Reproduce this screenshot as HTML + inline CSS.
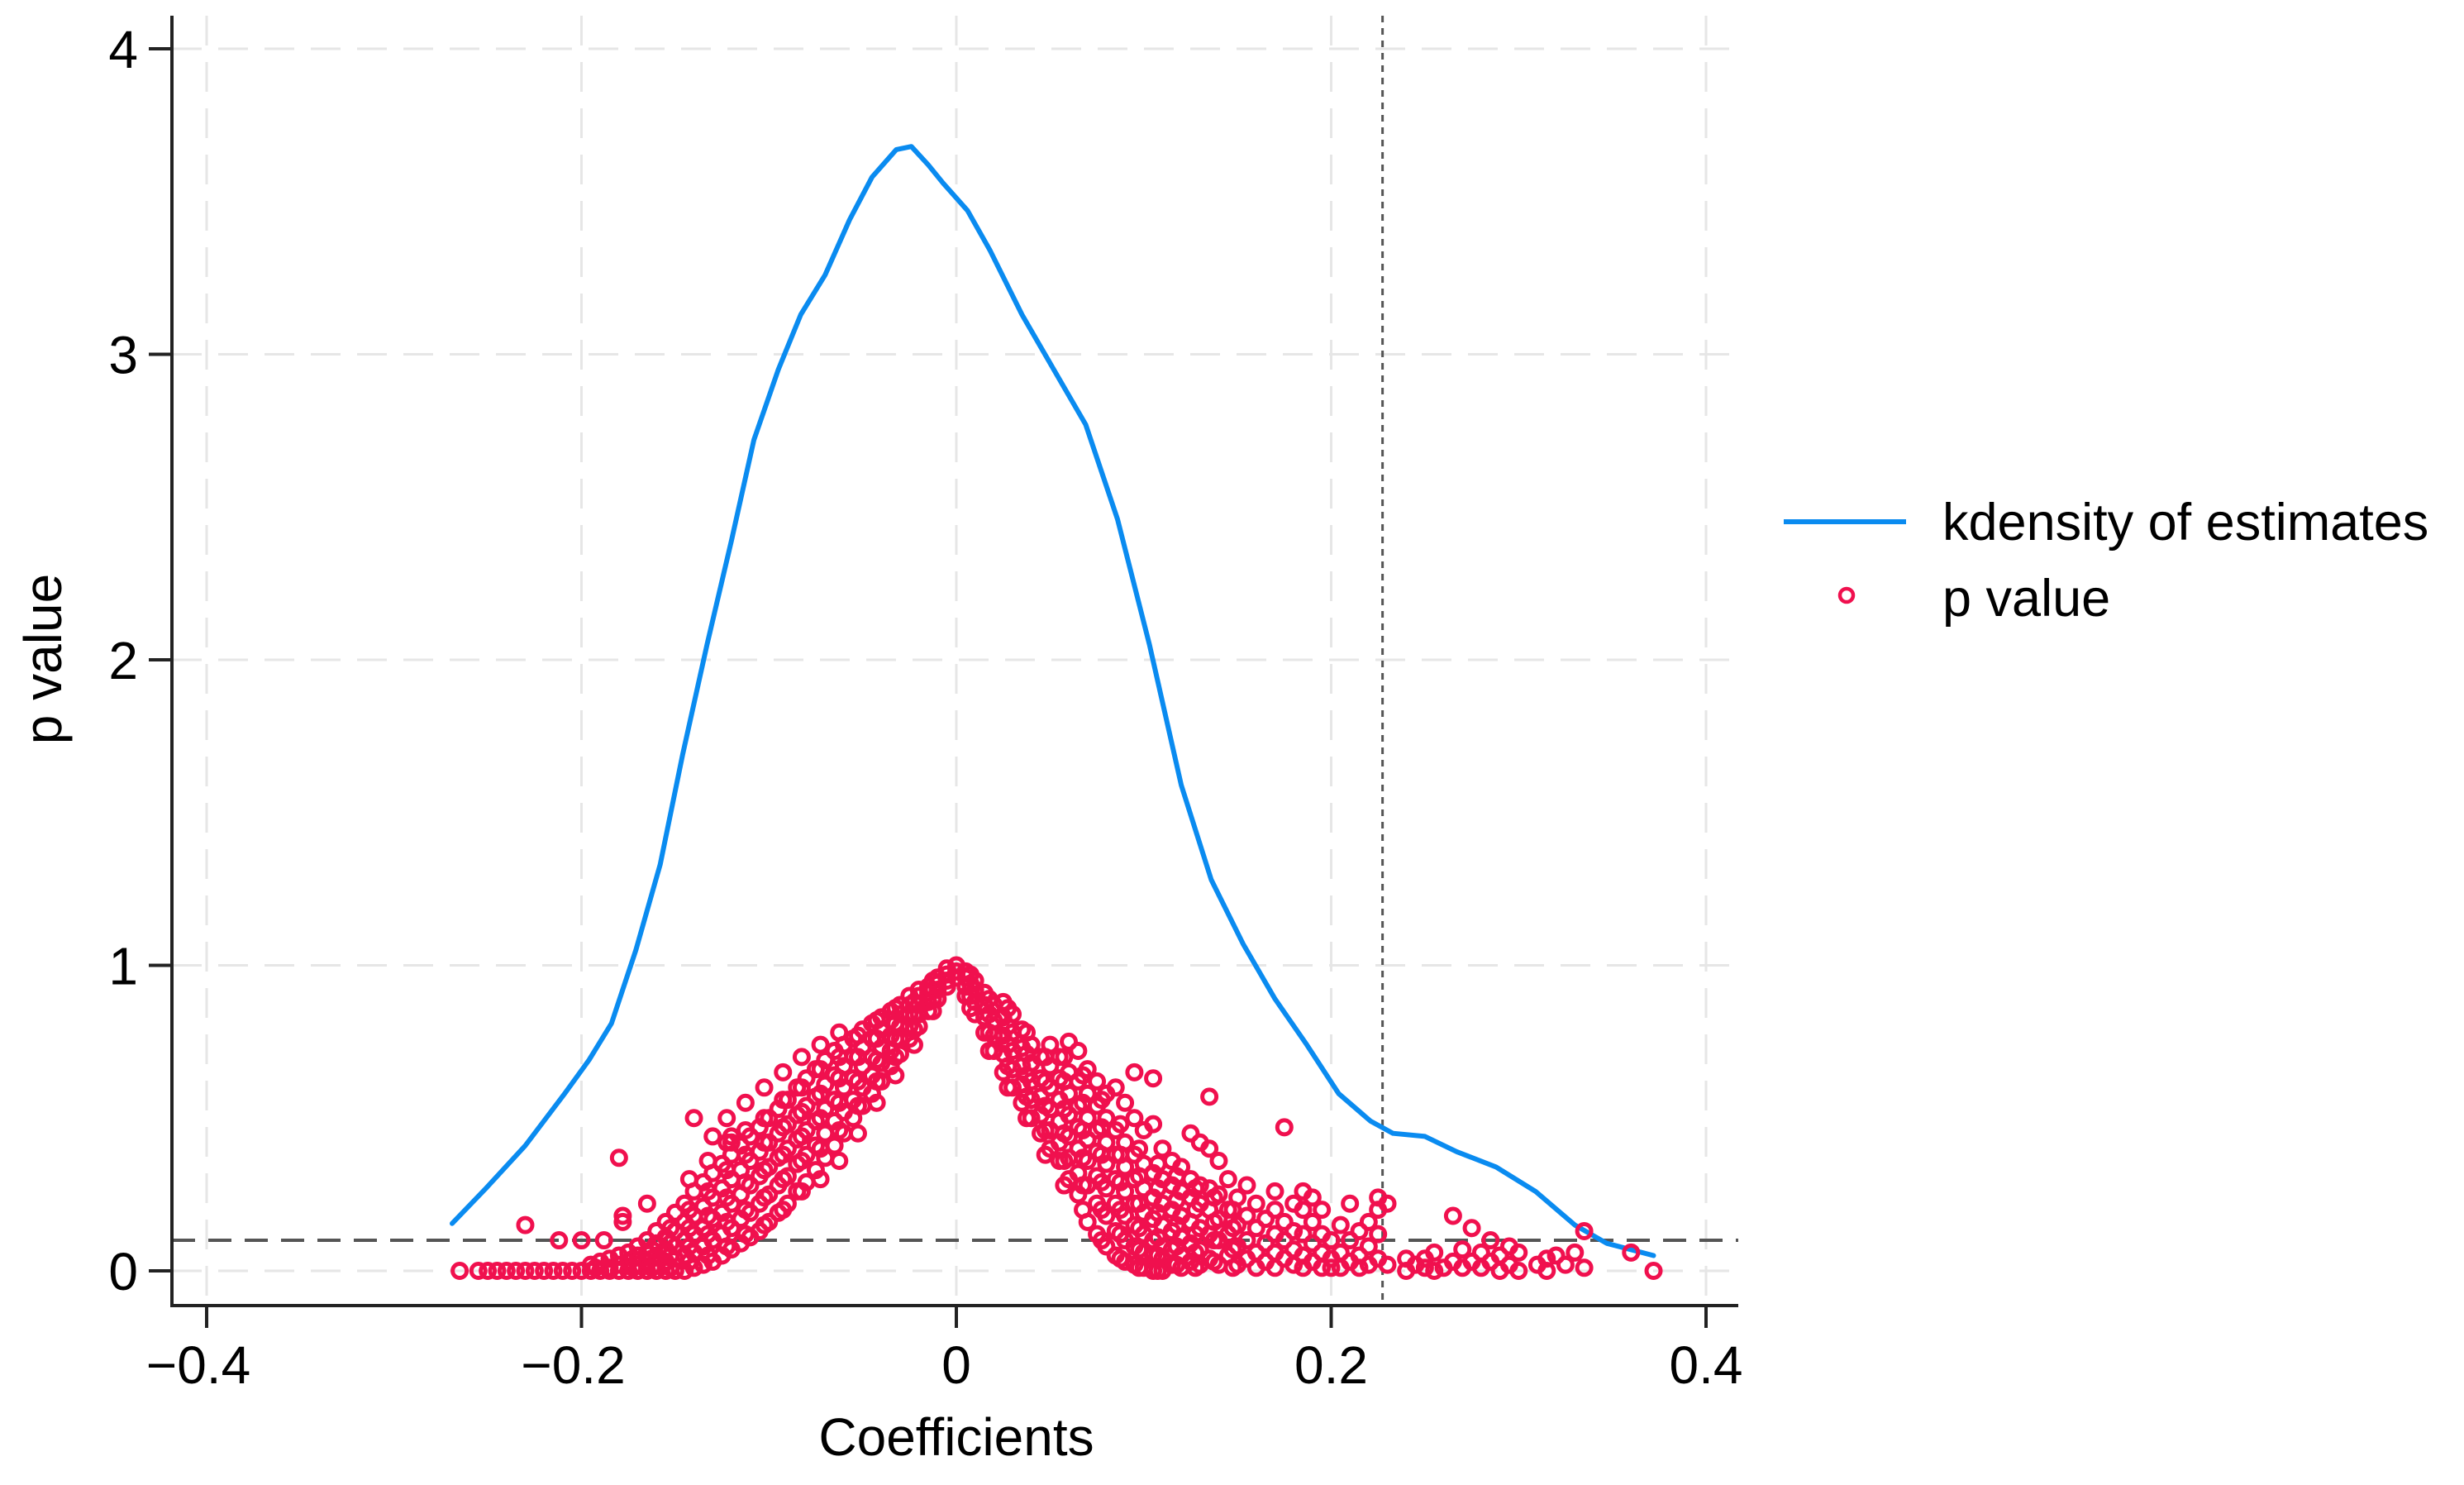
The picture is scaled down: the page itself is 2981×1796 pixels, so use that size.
<!DOCTYPE html>
<html><head><meta charset="utf-8"><style>
html,body{margin:0;padding:0;background:#fff;}
svg{display:block;font-family:"Liberation Sans",Arial,sans-serif;}
</style></head><body>
<svg id="chart" width="2981" height="1796" viewBox="0 0 2981 1796" xmlns="http://www.w3.org/2000/svg">
<g id="grid"></g>
<g id="refs"></g>
<g id="kde"></g>
<g id="pts"></g>
<g id="axes"></g>
<text transform="translate(74,797) rotate(-90)" text-anchor="middle" font-size="64">p value</text>
<text x="1157" y="1760" text-anchor="middle" font-size="64">Coefficients</text>
<g>
<line x1="2158" y1="631" x2="2306" y2="631" stroke="#0a8bf0" stroke-width="6"/>
<text x="2350" y="653" font-size="63">kdensity of estimates</text>
<circle cx="2234" cy="720" r="8" fill="none" stroke="#f0104e" stroke-width="4.5"/>
<text x="2350" y="745" font-size="63">p value</text>
</g>
</svg>
<script>
const xTicks = [-0.4, -0.2, 0, 0.2, 0.4];
const xTickLabels = ["\u22120.4", "\u22120.2", "0", "0.2", "0.4"];
const yTicks = [0, 1, 2, 3, 4];
const yTickLabels = ["0", "1", "2", "3", "4"];
const hRef = 0.1;
const vRef = 0.2274;
const kdeX = [-0.269,-0.251,-0.23,-0.209,-0.196,-0.184,-0.171,-0.158,-0.146,-0.133,-0.12,-0.108,-0.095,-0.083,-0.07,-0.057,-0.045,-0.032,-0.024,-0.015,-0.007,0.006,0.018,0.035,0.052,0.069,0.086,0.103,0.12,0.136,0.153,0.17,0.187,0.204,0.221,0.233,0.25,0.267,0.288,0.309,0.33,0.347,0.372];
const kdeY = [0.155,0.27,0.41,0.58,0.69,0.81,1.05,1.33,1.69,2.05,2.39,2.72,2.95,3.13,3.26,3.44,3.58,3.67,3.68,3.62,3.56,3.47,3.34,3.13,2.95,2.77,2.46,2.05,1.59,1.28,1.07,0.89,0.74,0.58,0.49,0.45,0.44,0.39,0.34,0.26,0.15,0.09,0.05];
const coefCols = [-0.265,-0.255,-0.25,-0.245,-0.24,-0.235,-0.23,-0.225,-0.22,-0.215,-0.212,-0.21,-0.205,-0.2,-0.188,-0.18,-0.178,-0.165,-0.14,-0.13,-0.12,
-0.195,-0.19,-0.185,-0.18,-0.175,-0.17,-0.165,-0.16,-0.155,-0.15,-0.145,-0.14,-0.135,-0.13,-0.125,-0.12,-0.115,-0.11,-0.105,-0.1,-0.095,-0.09,-0.085,-0.08,-0.075,-0.07,-0.065,-0.06,-0.055,-0.05,-0.045,-0.04,-0.035,-0.03,-0.025,-0.02,-0.015,-0.01,-0.005,0,
0.005,0.01,0.015,0.02,0.025,0.03,0.035,0.04,0.045,0.05,0.055,0.06,0.065,0.07,0.075,0.08,0.085,0.09,0.095,0.1,0.105,0.11,0.115,0.12,0.125,0.13,0.135,0.14,0.145,0.15,0.155,0.16,0.165,0.17,0.175,0.18,0.185,0.19,0.195,0.2,0.205,0.21,0.215,0.22,0.225,0.23,0.24,0.245,0.25,0.255,0.26,0.265,0.27,0.275,0.28,0.285,0.29,0.295,0.3,0.31,0.315,0.32,0.325,0.33,0.335,0.36,0.372,
-0.1925,-0.1725,-0.1625,-0.1525,-0.1425,-0.1325,-0.1225,-0.1125,-0.1025,-0.0925,-0.0825,-0.0725,-0.0625,-0.0525,-0.0425,-0.0325,-0.0225,-0.0125,
0.0075,0.0175,0.0275,0.0375,0.0475,0.0575,0.0675,0.0775,0.0875,0.0975,0.1075,0.1175,0.1275,0.1375,0.1475];
const pByCol = [[0],[0],[0],[0],[0],[0],[0,0.15],[0],[0],[0],[0.1],[0],[0],[0,0.1],[0.1],[0.37],[0.18,0.16],[0.22],[0.5],[0.44],[0.44,0.42],
[0,0.02],[0,0.03],[0,0.01,0.04],[0,0.02,0.05],[0,0.03,0.06],[0,0.02,0.05,0.08],[0,0.03,0.06,0.1],[0,0.02,0.05,0.09,0.13],[0,0.03,0.07,0.11,0.16],[0,0.04,0.08,0.13,0.19],[0,0.05,0.1,0.16,0.22],[0.01,0.06,0.12,0.18,0.26],[0.02,0.08,0.14,0.21,0.29],[0.03,0.1,0.17,0.24,0.32],[0.05,0.12,0.19,0.27,0.35],[0.07,0.14,0.22,0.3,0.38],[0.09,0.17,0.25,0.33,0.41],[0.11,0.19,0.28,0.36,0.44],[0.13,0.22,0.31,0.39,0.47],[0.16,0.25,0.34,0.42,0.5],[0.19,0.28,0.37,0.45,0.53],[0.22,0.31,0.4,0.48,0.56],[0.26,0.35,0.43,0.51,0.6],[0.29,0.38,0.46,0.54,0.63],[0.33,0.41,0.49,0.57,0.66],[0.37,0.45,0.53,0.61,0.69],[0.41,0.49,0.56,0.64,0.72],[0.45,0.52,0.6,0.67,0.74],[0.5,0.56,0.63,0.7,0.76],[0.54,0.6,0.67,0.73,0.79],[0.58,0.64,0.7,0.76,0.81],[0.62,0.68,0.73,0.79,0.83],[0.67,0.72,0.77,0.82,0.85],[0.71,0.76,0.8,0.84,0.87],[0.76,0.8,0.84,0.87,0.9],[0.8,0.84,0.87,0.9,0.92],[0.85,0.88,0.91,0.93],[0.89,0.92,0.94,0.96],[0.93,0.95,0.97,0.99],[0.96,0.98,1.0],
[0.9,0.93,0.96,0.98],[0.84,0.88,0.92,0.95],[0.78,0.83,0.87,0.91],[0.72,0.77,0.82,0.87],[0.65,0.71,0.77,0.83,0.88],[0.6,0.66,0.72,0.78,0.84],[0.55,0.61,0.67,0.73,0.79],[0.5,0.56,0.62,0.68,0.74],[0.45,0.51,0.57,0.63,0.7],[0.4,0.46,0.53,0.6,0.67,0.74],[0.36,0.42,0.49,0.56,0.63,0.7],[0.3,0.37,0.44,0.51,0.58,0.65,0.75],[0.25,0.32,0.4,0.47,0.54,0.62,0.72],[0.16,0.28,0.36,0.43,0.5,0.58,0.66],[0.12,0.22,0.31,0.39,0.46,0.54,0.62],[0.08,0.18,0.27,0.35,0.42,0.5,0.58],[0.05,0.13,0.22,0.3,0.38,0.46,0.6],[0.03,0.1,0.18,0.26,0.34,0.42,0.55],[0.02,0.08,0.15,0.22,0.3,0.38,0.5,0.65],[0.01,0.06,0.12,0.19,0.27,0.35,0.46],[0,0.05,0.1,0.17,0.24,0.32,0.48,0.63],[0,0.04,0.08,0.15,0.22,0.3,0.4],[0.02,0.07,0.13,0.2,0.28,0.36],[0.01,0.05,0.11,0.18,0.26,0.34],[0.03,0.09,0.16,0.24,0.3,0.45],[0.02,0.07,0.14,0.22,0.28,0.42],[0.04,0.12,0.2,0.27,0.4,0.57],[0.02,0.1,0.17,0.25,0.36],[0.05,0.12,0.2,0.3],[0.02,0.08,0.15,0.24],[0.04,0.1,0.18,0.28],[0.01,0.06,0.14,0.22],[0.03,0.09,0.17],[0.01,0.06,0.12,0.2,0.26],[0.04,0.1,0.16,0.47],[0.02,0.07,0.13,0.22],[0.01,0.05,0.12,0.2,0.26],[0.03,0.09,0.16,0.24],[0.01,0.06,0.12,0.2],[0.01,0.04,0.1],[0.01,0.06,0.15],[0.03,0.1,0.22],[0.01,0.05,0.13],[0.02,0.08,0.16],[0.04,0.12,0.2,0.24],[0.02,0.22],[0,0.04],[0.02],[0.01,0.04],[0,0.06],[0.01],[0.03,0.18],[0.01,0.07],[0.03,0.14],[0.01,0.06],[0.03,0.1],[0,0.05],[0.02,0.08],[0,0.06],[0.02],[0,0.04],[0.05],[0.02],[0.06],[0.01,0.13],[0.06],[0],
[0.01],[0.01,0.04],[0.01,0.04,0.07],[0.01,0.05,0.09,0.14],[0.03,0.08,0.14,0.2,0.3],[0.05,0.12,0.18,0.26,0.36],[0.08,0.16,0.24,0.33,0.42,0.5],[0.12,0.2,0.29,0.38,0.46,0.55],[0.15,0.24,0.33,0.42,0.5,0.6],[0.2,0.3,0.38,0.47,0.56,0.65],[0.26,0.36,0.44,0.52,0.6,0.7],[0.3,0.4,0.5,0.58,0.66,0.74],[0.36,0.46,0.55,0.63,0.7,0.78],[0.45,0.54,0.62,0.7,0.77],[0.55,0.62,0.69,0.76,0.82],[0.64,0.7,0.76,0.81,0.86],[0.74,0.79,0.84,0.88],[0.85,0.89,0.92,0.95],
[0.86,0.9,0.94,0.97],[0.72,0.78,0.84,0.89],[0.6,0.67,0.74,0.8,0.86],[0.5,0.57,0.64,0.71,0.78],[0.38,0.46,0.54,0.62,0.7],[0.28,0.36,0.45,0.53,0.62,0.7],[0.2,0.28,0.37,0.46,0.55,0.64],[0.1,0.2,0.29,0.38,0.47,0.56],[0.04,0.12,0.2,0.29,0.38,0.48],[0.01,0.07,0.14,0.22,0.31,0.4],[0,0.05,0.11,0.19,0.27,0.35],[0.02,0.08,0.15,0.23,0.31],[0.01,0.06,0.12,0.2,0.27],[0.03,0.1,0.16,0.24],[0.01,0.07,0.14,0.2]];

const NS = "http://www.w3.org/2000/svg";
const X0 = 1157, XS = (2063 - 249) / 0.8;
const Y0 = 1537, YS = (1537 - 59) / 4;
const PL = 208, PR = 2103, PT = 19, PB = 1579;
function sx(v) { return X0 + v * XS; }
function sy(v) { return Y0 - v * YS; }
function mk(tag, attrs, parent) {
  const el = document.createElementNS(NS, tag);
  for (const k in attrs) el.setAttribute(k, attrs[k]);
  parent.appendChild(el);
  return el;
}
const grid = document.getElementById('grid');
const refs = document.getElementById('refs');
const axes = document.getElementById('axes');
const kde = document.getElementById('kde');
const pts = document.getElementById('pts');

yTicks.forEach((t, i) => {
  const g = mk('line', {x1: PL, x2: PR, y1: sy(t), y2: sy(t), stroke: '#e6e6e6', 'stroke-width': 3, 'stroke-dasharray': '36 20'}, grid);
  
  
  const tk = mk('line', {x1: 180, x2: PL, y1: sy(t), y2: sy(t), stroke: '#222', 'stroke-width': 4}, axes);
  
  
  const lb = mk('text', {x: 167, y: sy(t) + 23, 'text-anchor': 'end', 'font-size': 64}, axes);
  lb.textContent = yTickLabels[i];
  
  
});
xTicks.forEach((t, i) => {
  const g = mk('line', {x1: sx(t), x2: sx(t), y1: PT, y2: PB, stroke: '#e6e6e6', 'stroke-width': 3, 'stroke-dasharray': '36 20'}, grid);
  
  
  const tk = mk('line', {x1: sx(t), x2: sx(t), y1: PB, y2: PB + 27, stroke: '#222', 'stroke-width': 4}, axes);
  
  
  const lb = mk('text', {x: sx(t) + (t < 0 ? -10 : 0), y: 1673, 'text-anchor': 'middle', 'font-size': 64}, axes);
  lb.textContent = xTickLabels[i];
  
  
});
const al = mk('line', {x1: PL, x2: PL, y1: PT, y2: PB + 2, stroke: '#222', 'stroke-width': 4}, axes);


const bl = mk('line', {x1: PL - 2, x2: PR, y1: PB, y2: PB, stroke: '#222', 'stroke-width': 4}, axes);



const hl = mk('line', {x1: PL, x2: PR, y1: sy(hRef), y2: sy(hRef), stroke: '#555', 'stroke-width': 4, 'stroke-dasharray': '28 16'}, refs);


const vl = mk('line', {x1: sx(vRef), x2: sx(vRef), y1: PT, y2: PB, stroke: '#555', 'stroke-width': 3, 'stroke-dasharray': '8 7'}, refs);



const d = kdeX.map((x, i) => (i ? 'L' : 'M') + sx(x).toFixed(1) + ',' + sy(kdeY[i]).toFixed(1)).join(' ');
const kp = mk('path', {d: d, fill: 'none', stroke: '#0a8bf0', 'stroke-width': 6, 'stroke-linejoin': 'round', 'stroke-linecap': 'round'}, kde);



coefCols.forEach((x, i) => {
  pByCol[i].forEach(p => {
    const c = mk('circle', {cx: sx(x), cy: sy(p), r: 8.5, fill: 'none', stroke: '#f0104e', 'stroke-width': 5}, pts);
    
    
  });
});
</script>
</body></html>
